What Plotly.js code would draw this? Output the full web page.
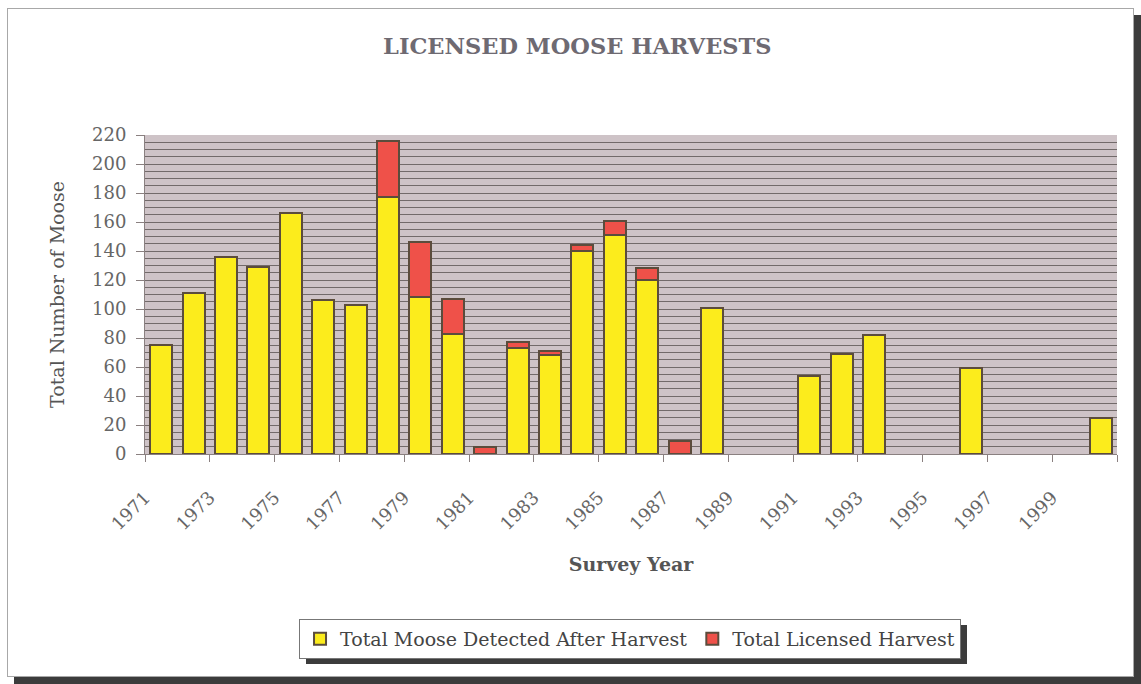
<!DOCTYPE html>
<html>
<head>
<meta charset="utf-8">
<script src="https://cdn.plot.ly/plotly-3.0.1.min.js"></script>
<style>
  html, body { margin: 0; padding: 0; background: #ffffff; }
  #frame { position: absolute; left: 7px; top: 8px; width: 1125px; height: 667px;
           border: 1px solid #a8a8a8; box-shadow: 7px 7px 0 #3c3c3c; background: #ffffff; }
  #legshadow { position: absolute; left: 309px; top: 625px; width: 654px; height: 40px; background: #3c3c3c; }
  #chart { position: absolute; left: 0; top: 0; width: 1141px; height: 684px; }
</style>
</head>
<body>
<div id="frame"></div>
<div id="legshadow"></div>
<div id="chart"></div>
<script>
// Survey years (categories)
const years = [1971,1972,1973,1974,1975,1976,1977,1978,1979,1980,
               1981,1982,1983,1984,1985,1986,1987,1988,1989,1990,
               1991,1992,1993,1994,1995,1996,1997,1998,1999,2000];
// Total Moose Detected After Harvest
const detected = [75,111,136,129,166,106,103,177,108,83,
                  null,73,68,140,151,120,null,101,null,null,
                  54,69,82,null,null,59,null,null,null,25];
// Total Licensed Harvest
const licensed = [null,null,null,null,null,null,null,39,38,24,
                  5,4,3,4,10,8,9,null,null,null,
                  null,null,null,null,null,null,null,null,null,null];
const seriesNames = ['Total Moose Detected After Harvest', 'Total Licensed Harvest'];

// tick marks every two categories, at category boundaries, labelled with the following year
const tickVals = [], tickText = [];
years.forEach((y, i) => { if (i % 2 === 0) { tickVals.push(y - 0.5); tickText.push(String(y)); } });
tickVals.push(years[years.length - 1] + 0.5); tickText.push('');

const font = 'DejaVu Serif, Liberation Serif, serif';
const barLine = { color: '#5b4c3c', width: 2 };

const data = [
  { type: 'bar', name: seriesNames[0], x: years, y: detected,
    marker: { color: '#fcec1c', line: barLine }, width: 0.68 },
  { type: 'bar', name: seriesNames[1], x: years, y: licensed,
    marker: { color: '#ef5149', line: barLine }, width: 0.68 }
];

const layout = {
  width: 1141, height: 684,
  paper_bgcolor: 'rgba(0,0,0,0)',
  plot_bgcolor: '#cec3c7',
  barmode: 'stack',
  margin: { l: 145, r: 24, t: 135, b: 230 },
  font: { family: font, color: '#666666', size: 18 },
  title: { text: 'LICENSED MOOSE HARVESTS', font: { family: font, size: 22.5, color: '#6e6a72', weight: 'bold' },
           xref: 'container', x: 0.506, xanchor: 'center', yref: 'container', y: 0.933, yanchor: 'middle' },
  xaxis: {
    range: [years[0] - 0.5, years[years.length - 1] + 0.5],
    tickmode: 'array', tickvals: tickVals, ticktext: tickText,
    tickangle: -45, ticks: 'outside', ticklen: 7, tickcolor: '#8a8080', tickwidth: 1,
    ticklabelstandoff: 18,
    showline: true, linecolor: '#8a8080', linewidth: 1, showgrid: false, zeroline: false,
    tickfont: { family: font, size: 18, color: '#666666' },
    title: { text: 'Survey Year', font: { family: font, size: 19, color: '#555555', weight: 'bold' }, standoff: 24 },
    fixedrange: true
  },
  yaxis: {
    range: [0, 220], dtick: 20, tick0: 0,
    ticks: 'outside', ticklen: 8, tickcolor: '#8a8080', tickwidth: 1,
    ticklabelstandoff: 6,
    showline: true, linecolor: '#8a8080', linewidth: 1,
    showgrid: true, gridcolor: '#726a6a', gridwidth: 1, zeroline: false,
    minor: { dtick: 5, showgrid: true, gridcolor: '#726a6a', gridwidth: 1, ticks: '' },
    tickfont: { family: font, size: 18, color: '#666666' },
    title: { text: 'Total Number of Moose', font: { family: font, size: 19, color: '#555555' }, standoff: 22 },
    fixedrange: true
  },
  showlegend: true,
  legend: {
    orientation: 'h', x: 0.499, xanchor: 'center', y: -0.517, yanchor: 'top',
    bgcolor: '#ffffff', bordercolor: '#777777', borderwidth: 1,
    font: { family: font, size: 19, color: '#444444' },
    traceorder: 'normal', itemsizing: 'constant', itemwidth: 30
  }
};

Plotly.newPlot('chart', data, layout, { displayModeBar: false, staticPlot: true }).then(gd => {
  const bg = gd.querySelector('.legend .bg');
  if (bg) {
    const r = bg.getBoundingClientRect();
    const sh = document.getElementById('legshadow');
    sh.style.left = (r.left + 6) + 'px';
    sh.style.top = (r.top + 6) + 'px';
    sh.style.width = r.width + 'px';
    sh.style.height = r.height + 'px';
  }
});
</script>
</body>
</html>
